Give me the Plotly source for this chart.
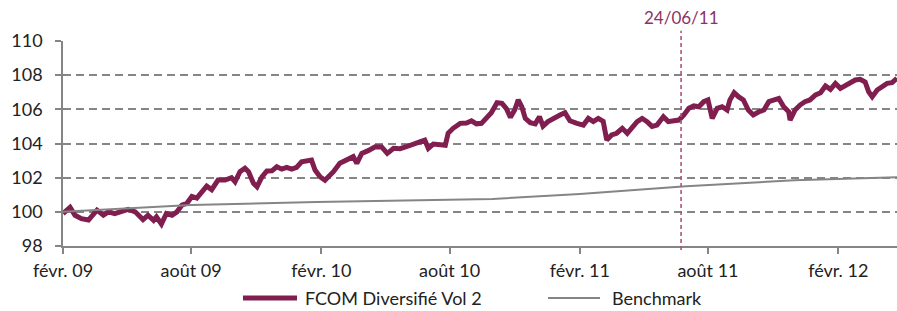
import plotly.graph_objects as go

# ---------------- data ----------------
fund_dates = [
    "2009-02-01", "2009-02-11", "2009-02-18", "2009-02-27", "2009-03-09", "2009-03-16", "2009-03-21", "2009-03-30",
    "2009-04-06", "2009-04-15", "2009-04-25", "2009-05-04", "2009-05-14", "2009-05-21", "2009-05-25", "2009-06-01",
    "2009-06-09", "2009-06-13", "2009-06-20", "2009-06-27", "2009-07-05", "2009-07-12", "2009-07-19", "2009-07-26",
    "2009-08-02", "2009-08-09", "2009-08-16", "2009-08-23", "2009-08-30", "2009-09-08", "2009-09-18", "2009-09-27",
    "2009-10-02", "2009-10-09", "2009-10-16", "2009-10-21", "2009-10-28", "2009-11-02", "2009-11-09", "2009-11-16",
    "2009-11-23", "2009-11-30", "2009-12-07", "2009-12-14", "2009-12-21", "2009-12-28", "2010-01-04", "2010-01-11",
    "2010-01-18", "2010-01-23", "2010-01-30", "2010-02-06", "2010-02-18", "2010-02-27", "2010-03-09", "2010-03-18",
    "2010-03-23", "2010-03-30", "2010-04-08", "2010-04-18", "2010-04-27", "2010-05-05", "2010-05-14", "2010-05-23",
    "2010-06-01", "2010-06-11", "2010-06-20", "2010-06-27", "2010-07-02", "2010-07-09", "2010-07-18", "2010-07-26",
    "2010-07-30", "2010-08-06", "2010-08-16", "2010-08-25", "2010-09-01", "2010-09-08", "2010-09-15", "2010-09-22",
    "2010-09-29", "2010-10-07", "2010-10-14", "2010-10-20", "2010-10-26", "2010-11-01", "2010-11-06", "2010-11-11",
    "2010-11-16", "2010-11-23", "2010-11-30", "2010-12-06", "2010-12-11", "2010-12-18", "2010-12-25", "2011-01-04",
    "2011-01-11", "2011-01-18", "2011-01-28", "2011-02-06", "2011-02-13", "2011-02-20", "2011-02-27", "2011-03-06",
    "2011-03-11", "2011-03-18", "2011-03-25", "2011-04-02", "2011-04-09", "2011-04-16", "2011-04-23", "2011-04-30",
    "2011-05-07", "2011-05-14", "2011-05-21", "2011-05-30", "2011-06-06", "2011-06-14", "2011-06-21", "2011-06-28",
    "2011-07-05", "2011-07-12", "2011-07-19", "2011-07-26", "2011-08-01", "2011-08-07", "2011-08-14", "2011-08-21",
    "2011-08-28", "2011-09-01", "2011-09-07", "2011-09-13", "2011-09-20", "2011-09-27", "2011-10-04", "2011-10-12",
    "2011-10-19", "2011-10-26", "2011-11-02", "2011-11-09", "2011-11-16", "2011-11-23", "2011-11-25", "2011-12-02",
    "2011-12-09", "2011-12-16", "2011-12-23", "2011-12-31", "2012-01-07", "2012-01-14", "2012-01-21", "2012-01-28",
    "2012-02-04", "2012-02-11", "2012-02-18", "2012-02-25", "2012-03-03", "2012-03-10", "2012-03-15", "2012-03-20",
    "2012-03-27", "2012-04-03", "2012-04-10", "2012-04-17", "2012-04-24",
]
fund_values = [
    99.90, 100.26, 99.80, 99.60, 99.52, 99.90, 100.10, 99.80,
    100.00, 99.90, 100.00, 100.15, 100.00, 99.70, 99.55, 99.80,
    99.50, 99.70, 99.29, 99.90, 99.80, 100.00, 100.40, 100.50,
    100.90, 100.80, 101.10, 101.50, 101.30, 101.86, 101.86, 102.00,
    101.76, 102.35, 102.55, 102.35, 101.67, 101.47, 102.05, 102.39,
    102.40, 102.64, 102.50, 102.60, 102.50, 102.60, 102.93, 103.00,
    103.03, 102.45, 102.05, 101.85, 102.35, 102.84, 103.07, 103.23,
    102.84, 103.42, 103.58, 103.81, 103.80, 103.42, 103.72, 103.70,
    103.81, 104.00, 104.10, 104.20, 103.72, 103.97, 103.97, 103.90,
    104.60, 104.89, 105.18, 105.20, 105.33, 105.15, 105.18, 105.47,
    105.80, 106.39, 106.35, 106.06, 105.53, 105.96, 106.55, 106.15,
    105.47, 105.22, 105.15, 105.57, 105.02, 105.28, 105.47, 105.67,
    105.80, 105.33, 105.18, 105.08, 105.47, 105.28, 105.47, 105.30,
    104.20, 104.50, 104.60, 104.89, 104.60, 105.00, 105.28, 105.47,
    105.28, 105.00, 105.08, 105.57, 105.28, 105.33, 105.37, 105.67,
    106.06, 106.20, 106.15, 106.45, 106.55, 105.47, 106.06, 106.15,
    105.96, 106.55, 106.97, 106.74, 106.55, 105.96, 105.67, 105.86,
    105.96, 106.45, 106.55, 106.64, 106.15, 105.86, 105.37, 105.96,
    106.25, 106.45, 106.55, 106.84, 106.97, 107.37, 107.17, 107.52,
    107.23, 107.42, 107.56, 107.72, 107.76, 107.60, 107.03, 106.74,
    107.13, 107.30, 107.52, 107.56, 107.82,
]

bench_dates = ["2009-02-01", "2009-08-01", "2010-01-25", "2010-10-01",
               "2011-02-01", "2011-07-01", "2011-12-01", "2012-04-24"]
bench_values = [100.00, 100.40, 100.58, 100.75, 101.05, 101.50, 101.85, 102.02]

tick_dates = ["2009-02-01", "2009-08-01", "2010-02-01", "2010-08-01",
              "2011-02-01", "2011-08-01", "2012-02-01"]
tick_labels = ["févr. 09", "août 09", "févr. 10", "août 10",
               "févr. 11", "août 11", "févr. 12"]

y_ticks = [98, 100, 102, 104, 106, 108, 110]

marker_date = "2011-06-24"
marker_label = "24/06/11"

series_names = ["FCOM Diversifié Vol 2", "Benchmark"]

# ---------------- style ----------------
FONT = "Lato"
TXT = "#222222"
PURPLE = "#801E50"
GREY = "#858585"
series_colors = [PURPLE, GREY]
series_widths = [5, 2]

fig = go.Figure()
fig.add_trace(go.Scatter(x=fund_dates, y=fund_values, mode="lines", name=series_names[0],
                         line=dict(color=PURPLE, width=5), showlegend=False, hoverinfo="skip"))
fig.add_trace(go.Scatter(x=bench_dates, y=bench_values, mode="lines", name=series_names[1],
                         line=dict(color=GREY, width=2), showlegend=False, hoverinfo="skip"))

fig.add_shape(type="line", xref="x", yref="paper", x0=marker_date, x1=marker_date,
              y0=-0.02, y1=1.05, line=dict(color="#A8577F", width=1.6, dash="4px,3px"))
fig.add_annotation(x=marker_date, xref="x", yref="paper", y=1.055, yanchor="bottom",
                   text=marker_label, showarrow=False,
                   font=dict(family=FONT, size=17, color="#8A3466"))

# legend (drawn below the plot area)
leg_y = -0.2537
leg_items = [(0.2158, 0.2806, 0.2878), (0.5815, 0.6439, 0.6559)]
for (x0, x1, xt), name, col, w in zip(leg_items, series_names, series_colors, series_widths):
    fig.add_shape(type="line", xref="paper", yref="paper", x0=x0, x1=x1, y0=leg_y, y1=leg_y,
                  line=dict(color=col, width=w))
    fig.add_annotation(x=xt, y=leg_y, xref="paper", yref="paper", xanchor="left", yanchor="middle",
                       text=name, showarrow=False, font=dict(family=FONT, size=18, color=TXT))

fig.update_layout(
    width=897, height=311,
    margin=dict(l=63, r=0, t=41, b=65, autoexpand=False),
    paper_bgcolor="white", plot_bgcolor="white",
    font=dict(family=FONT, size=18, color=TXT),
    showlegend=False,
    hovermode=False,
    xaxis=dict(
        type="date", range=["2009-02-01", "2012-04-24"],
        tickmode="array", tickvals=tick_dates, ticktext=tick_labels,
        showgrid=False, zeroline=False,
        showline=True, linecolor=GREY, linewidth=1.5,
        ticks="outside", ticklen=6, tickwidth=1.5, tickcolor=GREY,
        ticklabelstandoff=2,
        tickfont=dict(family=FONT, size=18, color=TXT),
    ),
    yaxis=dict(
        range=[98, 110], tickmode="array", tickvals=y_ticks,
        showgrid=True, gridcolor=GREY, gridwidth=1.5, griddash="8px,5px",
        zeroline=False,
        showline=True, linecolor=GREY, linewidth=1.5,
        ticks="outside", ticklen=6, tickwidth=1.5, tickcolor=GREY,
        ticklabelstandoff=9,
        tickfont=dict(family=FONT, size=18, color=TXT),
    ),
)

# remove the browser's default 8px body margin so the figure fills the window exactly
fig.write_html("out.html",
               config={"displayModeBar": False},
               post_script="document.body.style.margin='0';document.body.style.overflow='hidden';")
